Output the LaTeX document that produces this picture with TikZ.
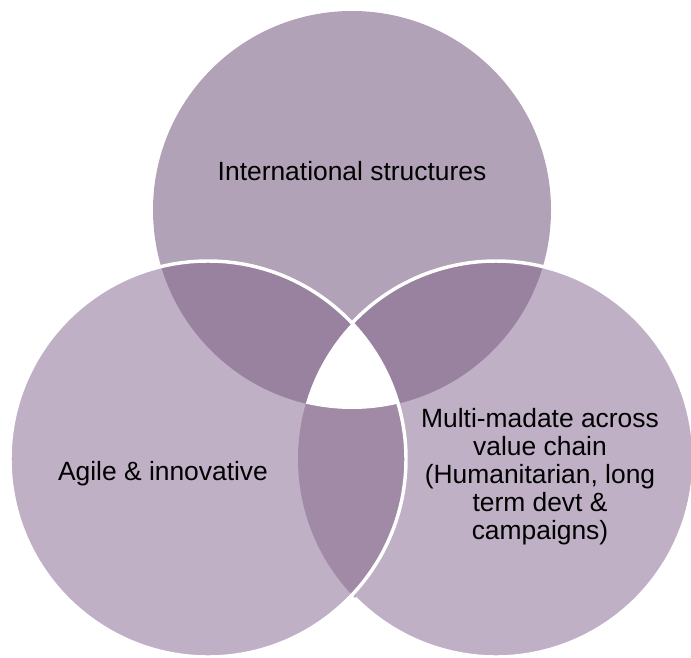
\documentclass[tikz,border=0pt]{standalone}
\usepackage{fontspec}
\setmainfont{Liberation Sans}
\definecolor{topc}{HTML}{B2A2B8}
\definecolor{botc}{HTML}{BFB0C6}
\definecolor{lensc}{HTML}{98829F}
\definecolor{lowc}{HTML}{A08AA6}
\begin{document}
\begin{tikzpicture}[x=0.75pt,y=0.75pt,
  lbl/.style={font=\fontsize{19.8}{21}\selectfont, align=center, text=black, inner sep=0pt},
  rim/.style={white, line width=2.6pt}]
\useasboundingbox (0,0) rectangle (691,657);
\coordinate (T) at (352,447);
\coordinate (L) at (208,198);
\coordinate (R) at (496,198);
% base circles
\fill[topc] (T) circle[radius=199];
\fill[botc] (R) circle[radius=198];
\fill[botc] (L) circle[radius=198];
% upper lenses
\begin{scope}
  \clip (T) circle[radius=199];
  \fill[lensc] (L) circle[radius=198];
  \fill[lensc] (R) circle[radius=198];
\end{scope}
% lower lens
\begin{scope}
  \clip (L) circle[radius=198];
  \fill[lowc] (R) circle[radius=198];
\end{scope}
% triple overlap
\begin{scope}
  \clip (T) circle[radius=199];
  \clip (L) circle[radius=198];
  \fill[white] (R) circle[radius=198];
\end{scope}
% white rims
\draw[rim] (R) ++(136.4:198) arc[start angle=136.4, end angle=-135.4, radius=198];
\draw[rim] (L) circle[radius=198];
% labels
\node[lbl] (intl) at (352,486) {International structures};
\node[lbl] (agile) at (163,183) {Agile \& innovative};
\node[lbl] (multi) at (540,180) {Multi-madate across\\value chain\\(Humanitarian, long\\term devt \&\\campaigns)};
\end{tikzpicture}
\end{document}
